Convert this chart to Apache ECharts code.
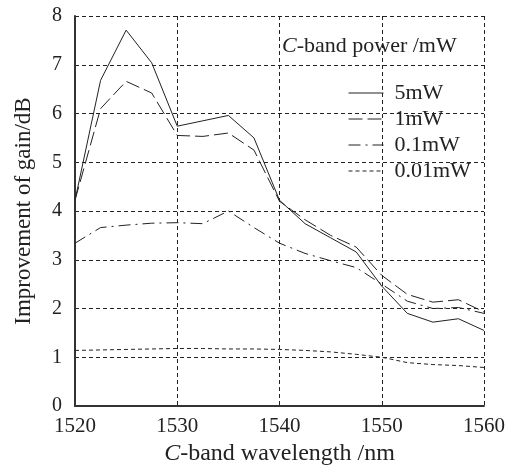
<!DOCTYPE html>
<html>
<head>
<meta charset="utf-8">
<script src="https://cdn.jsdelivr.net/npm/echarts@6/dist/echarts.min.js"></script>
<style>
  html, body { margin: 0; padding: 0; background: #fff; }
  #chart { width: 513px; height: 466px; }
</style>
</head>
<body>
<div id="chart"></div>
<script>
  // wavelength /nm
  var wavelengths = [1520, 1522.5, 1525, 1527.5, 1530, 1532.5, 1535, 1537.5, 1540,
                     1542.5, 1545, 1547.5, 1550, 1552.5, 1555, 1557.5, 1560];
  // improvement of gain /dB
  var gain5mW    = [4.22, 6.68, 7.71, 7.04, 5.74, 5.85, 5.96, 5.50, 4.22, 3.74, 3.45, 3.16, 2.46, 1.90, 1.72, 1.79, 1.55];
  var gain1mW    = [4.22, 6.10, 6.66, 6.42, 5.55, 5.53, 5.60, 5.25, 4.20, 3.82, 3.50, 3.26, 2.68, 2.29, 2.13, 2.18, 1.93];
  var gain01mW   = [3.34, 3.66, 3.71, 3.75, 3.76, 3.74, 4.00, 3.66, 3.34, 3.13, 2.98, 2.84, 2.50, 2.15, 2.00, 2.02, 1.90];
  var gain001mW  = [1.14, 1.15, 1.16, 1.17, 1.18, 1.18, 1.17, 1.17, 1.16, 1.14, 1.11, 1.06, 1.00, 0.89, 0.85, 0.83, 0.79];
  var seriesNames = ['5mW', '1mW', '0.1mW', '0.01mW'];
  var xTicks = [1520, 1530, 1540, 1550, 1560];
  var yTicks = [0, 1, 2, 3, 4, 5, 6, 7, 8];

  var font = 'Liberation Serif';
  var ink = '#222';

  function pairs(ys) {
    return wavelengths.map(function (x, i) { return [x, ys[i]]; });
  }

  var dashTypes = ['solid', [14, 5], [12, 5, 2, 5], [4, 3]];
  var allData = [gain5mW, gain1mW, gain01mW, gain001mW];

  var chart = echarts.init(document.getElementById('chart'));
  var option = {
    animation: false,
    backgroundColor: '#fff',
    grid: { left: 75, right: 29, top: 16, bottom: 60, outerBoundsMode: 'none', containLabel: false },
    title: {
      text: '{i|C}-band power /mW',
      left: 282, top: 35, padding: 0,
      textStyle: {
        fontFamily: font, fontSize: 22, fontWeight: 'normal', color: ink,
        rich: { i: { fontFamily: font, fontSize: 22, fontStyle: 'italic', color: ink } }
      }
    },
    legend: {
      orient: 'vertical',
      left: 348, top: 82, padding: 0,
      itemWidth: 35, itemHeight: 14, itemGap: 4,
      data: seriesNames,
      itemStyle: { opacity: 0 },
      lineStyle: { width: 1 },
      textStyle: { fontFamily: font, fontSize: 22, lineHeight: 22, color: ink, padding: [0, 0, 0, 6] }
    },
    xAxis: {
      type: 'value', min: 1520, max: 1560, interval: 10,
      name: '{i|C}-band wavelength /nm',
      nameLocation: 'middle', nameGap: 33,
      nameTextStyle: {
        fontFamily: font, fontSize: 24, color: ink,
        rich: { i: { fontFamily: font, fontSize: 24, fontStyle: 'italic', color: ink } }
      },
      axisLine: { show: true, onZero: false, lineStyle: { color: '#333', width: 2 } },
      axisTick: { show: false },
      axisLabel: {
        fontFamily: font, fontSize: 21, color: ink, margin: 10,
        customValues: xTicks,
        formatter: function (v) { return String(v); }
      },
      splitLine: { show: true, lineStyle: { color: ink, type: [4, 3], width: 1 } }
    },
    yAxis: {
      type: 'value', min: 0, max: 8, interval: 1,
      name: 'Improvement of gain/dB',
      nameLocation: 'middle', nameGap: 40,
      nameTextStyle: { fontFamily: font, fontSize: 23, color: ink },
      axisLine: { show: true, onZero: false, lineStyle: { color: '#333', width: 2 } },
      axisTick: { show: false },
      axisLabel: {
        fontFamily: font, fontSize: 20, color: ink, margin: 13,
        customValues: yTicks
      },
      splitLine: { show: true, lineStyle: { color: ink, type: [4, 3], width: 1 } }
    },
    series: seriesNames.map(function (name, k) {
      return {
        name: name,
        type: 'line',
        data: pairs(allData[k]),
        symbol: 'none',
        color: ink,
        lineStyle: { color: ink, width: 1, type: dashTypes[k] }
      };
    })
  };
  chart.setOption(option);
</script>
</body>
</html>
